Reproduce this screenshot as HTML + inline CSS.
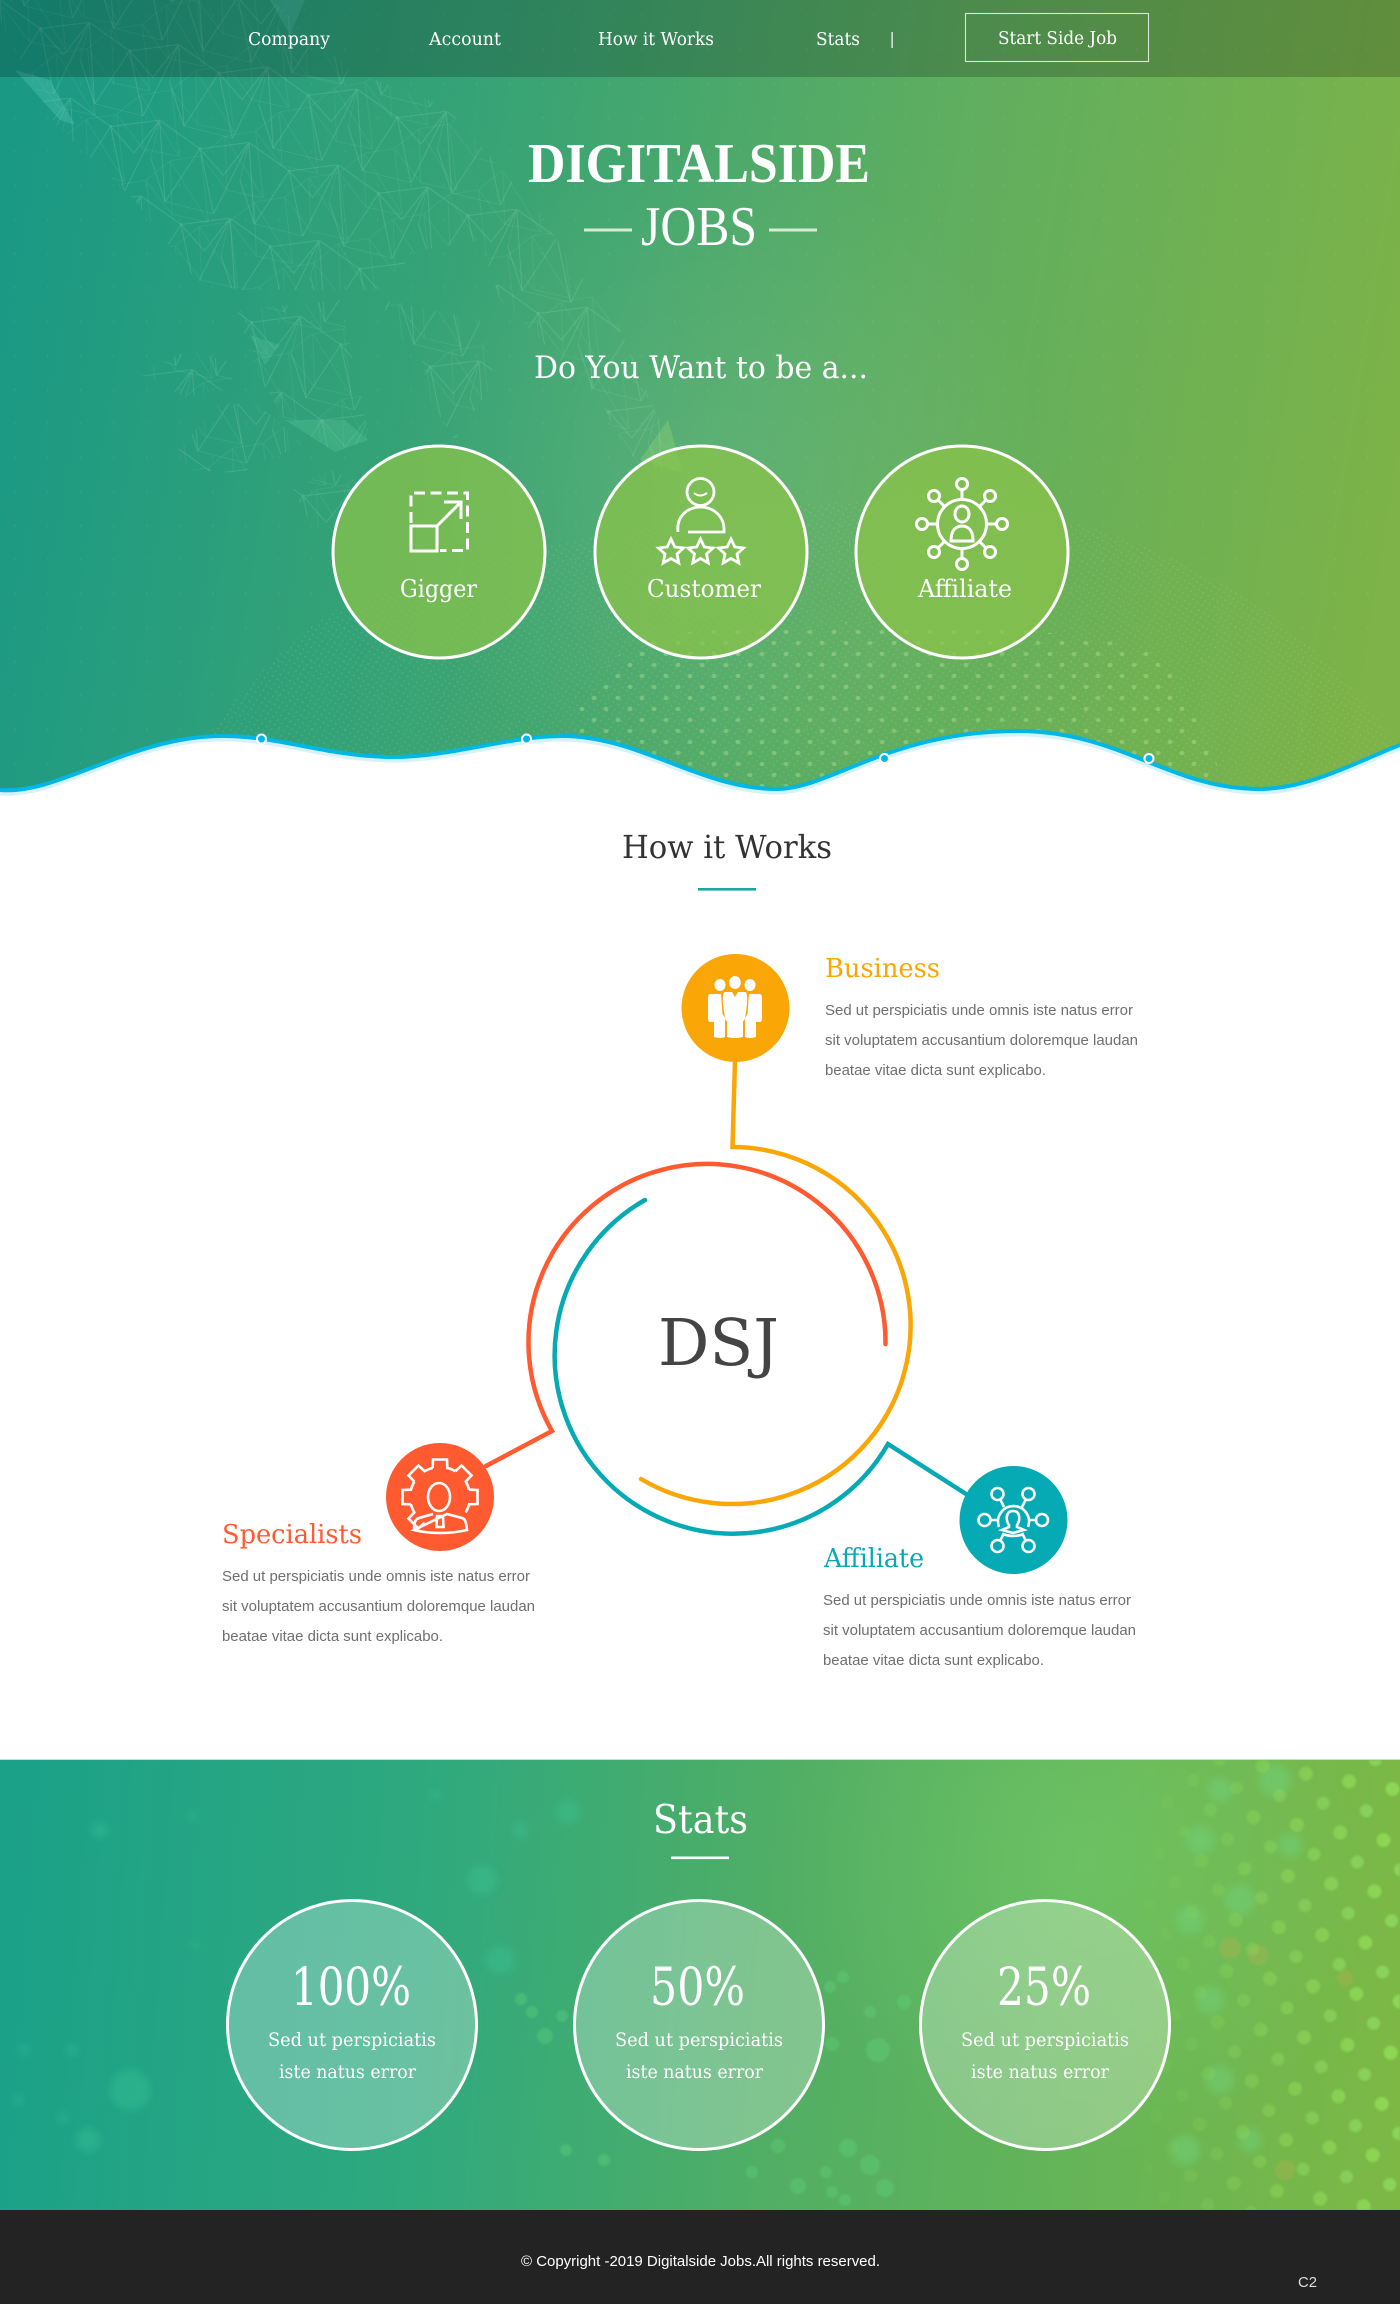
<!DOCTYPE html>
<html lang="en"><head><meta charset="utf-8"><title>Digitalside Jobs</title>
<style>
html,body{margin:0;padding:0;width:1400px;height:2304px;background:#fff;overflow:hidden}
svg{display:block}
text{white-space:pre}
.s{font-family:"DejaVu Serif","Liberation Serif",serif}
.l{font-family:"Liberation Serif",serif}
.p{font-family:"Liberation Sans",sans-serif;font-size:15px;fill:#6f6f6f}
.w{fill:#fff}
</style></head><body>
<svg xmlns="http://www.w3.org/2000/svg" width="1400" height="2304" viewBox="0 0 1400 2304">
<defs>
<linearGradient id="hero" gradientUnits="userSpaceOnUse" x1="0" y1="250" x2="1400" y2="480">
<stop offset="0" stop-color="#1a9984"/><stop offset=".35" stop-color="#3aa474"/><stop offset=".65" stop-color="#5fae60"/><stop offset="1" stop-color="#7db348"/></linearGradient>
<linearGradient id="stats" gradientUnits="userSpaceOnUse" x1="0" y1="1950" x2="1400" y2="2050">
<stop offset="0" stop-color="#1ba188"/><stop offset=".3" stop-color="#2fa97e"/><stop offset=".55" stop-color="#50ae65"/><stop offset=".8" stop-color="#67b556"/><stop offset="1" stop-color="#7db845"/></linearGradient>
<radialGradient id="spot" gradientUnits="userSpaceOnUse" cx="720" cy="470" r="330"><stop offset="0" stop-color="#fff" stop-opacity=".08"/><stop offset="1" stop-color="#fff" stop-opacity="0"/></radialGradient>
<radialGradient id="glow" gradientUnits="userSpaceOnUse" cx="1080" cy="1860" r="300"><stop offset="0" stop-color="#7fe07a" stop-opacity=".3"/><stop offset="1" stop-color="#7fe07a" stop-opacity="0"/></radialGradient>
<pattern id="mesh1" width="92" height="78" patternUnits="userSpaceOnUse" patternTransform="rotate(14)">
<path d="M0 0L46 18L92 0M46 18L25 78M46 18L75 78M0 0L25 78L75 78L92 0M25 78L0 38L0 0M92 0L75 38L46 18" fill="none" stroke="#c7f7e0" stroke-width=".9"/>
<circle cx="46" cy="18" r="1.5" fill="#d8ffee"/><circle cx="25" cy="78" r="1.3" fill="#d8ffee"/></pattern>
<pattern id="mesh2" width="60" height="72" patternUnits="userSpaceOnUse" patternTransform="rotate(-24)">
<path d="M0 8L30 0L60 8L40 72L10 50L0 8M30 0L10 50M30 0L40 72" fill="none" stroke="#c7f7e0" stroke-width=".8"/></pattern>
<pattern id="bigdots" width="24" height="22" patternUnits="userSpaceOnUse"><ellipse cx="6" cy="5" rx="2.500" ry="2.100" fill="#c9ee9f"/><ellipse cx="18" cy="16" rx="2.500" ry="2.100" fill="#c9ee9f"/></pattern>
<pattern id="fine" width="8" height="8" patternUnits="userSpaceOnUse" patternTransform="rotate(-12)"><circle cx="2" cy="2" r=".9" fill="#d7f5c2"/><circle cx="6" cy="6" r=".9" fill="#d7f5c2"/></pattern>
<pattern id="tiny" width="33" height="34" patternUnits="userSpaceOnUse"><rect x="14" y="14" width="1.400" height="3" fill="#fff"/></pattern>
<pattern id="bok" width="44" height="52" patternUnits="userSpaceOnUse" patternTransform="rotate(10)"><circle cx="10" cy="12" r="7" fill="#93e05a"/><circle cx="32" cy="38" r="6.500" fill="#8fdc62"/></pattern>
<linearGradient id="fade" gradientUnits="userSpaceOnUse" x1="1130" y1="0" x2="1400" y2="0"><stop offset="0" stop-color="#fff" stop-opacity="0"/><stop offset=".45" stop-color="#fff" stop-opacity=".4"/><stop offset="1" stop-color="#fff" stop-opacity=".95"/></linearGradient>
<mask id="fm"><rect x="1100" y="1760" width="300" height="450" fill="url(#fade)"/></mask>
<filter id="b2" x="-5%" y="-5%" width="110%" height="110%"><feGaussianBlur stdDeviation="1"/></filter>
<filter id="b4" x="-5%" y="-5%" width="110%" height="110%"><feGaussianBlur stdDeviation="4"/></filter>
<clipPath id="map"><path d="M0 0H272L350 70L446 107L535 207L590 290L616 320L655 410L683 473L660 470L620 440L600 400L570 370L530 310L500 300L480 240L420 250L375 290L237 290L196 280L134 200L54 123L0 20ZM237 310L340 300L370 440L335 452L285 420L255 370ZM385 300L480 320L495 380L455 440L430 400L420 350L385 330ZM138 372L190 350L241 365L225 390L185 397ZM178 450L220 403L260 405L303 445L240 473L190 470ZM292 490L330 470L357 480L340 520L315 530ZM500 300L545 300L600 400L650 470L683 473L640 470L600 400Z"/></clipPath>
<clipPath id="globe"><path d="M170 800C210 720 270 650 350 600C480 560 560 540 700 515C900 490 1000 500 1100 530C1250 580 1340 660 1400 750V800Z"/></clipPath>
<clipPath id="globeB"><path d="M555 790C565 720 590 670 640 640C760 615 1000 615 1150 650C1190 690 1210 740 1225 790Z"/></clipPath>
<clipPath id="wave"><path d="M0 790C60 795 130 736 223 736C280 736 330 757 393 757C450 757 510 736 562 736C640 736 700 789 777 789C830 789 890 731 1018 731C1120 731 1170 789 1259 789C1310 789 1360 760 1400 745V0H0Z"/></clipPath>
<path id="gt" d="M-7.300-29.100L-7-37.500H7L7.300-29.100A30 30 0 0 1 15.450-25.700"/>
</defs>

<rect width="1400" height="2304" fill="#fff"/>

<!-- hero -->
<g clip-path="url(#wave)">
<rect width="1400" height="800" fill="url(#hero)"/>
<rect width="1400" height="800" fill="url(#tiny)" opacity=".05"/>
<rect width="1400" height="800" fill="url(#spot)"/>
<g clip-path="url(#map)">
<rect width="760" height="560" fill="url(#mesh1)" opacity=".17"/><rect width="760" height="560" fill="url(#mesh2)" opacity=".09"/></g>
<path d="M15 70L50 80L75 125L60 120Z" fill="#5fd0c0" opacity=".3"/>
<path d="M270 0L305 0L290 35Z" fill="#5fd0c0" opacity=".25"/>
<path d="M640 460L683 473L668 420Z" fill="#9fe070" opacity=".3"/>
<path d="M285 420L335 452L368 440L345 420Z" fill="#7fe0b0" opacity=".18"/>
<path d="M250 335L280 345L265 365Z" fill="#7fe0b0" opacity=".18"/>
<g clip-path="url(#globe)"><rect y="460" width="1400" height="340" fill="url(#fine)" opacity=".14"/></g>
<g clip-path="url(#globeB)"><rect x="540" y="600" width="800" height="200" fill="url(#bigdots)" opacity=".33"/></g>
</g>
<rect width="1400" height="77" fill="#000" opacity=".2"/>

<!-- wave line -->
<path d="M0 793.500C60 798.500 130 739.500 223 739.500C280 739.500 330 760.500 393 760.500C450 760.500 510 739.500 562 739.500C640 739.500 700 792.500 777 792.500C830 792.500 890 734.500 1018 734.500C1120 734.500 1170 792.500 1259 792.500C1310 792.500 1360 763.500 1400 748.500" fill="none" stroke="#d6f3fb" stroke-width="4"/>
<path d="M0 790C60 795 130 736 223 736C280 736 330 757 393 757C450 757 510 736 562 736C640 736 700 789 777 789C830 789 890 731 1018 731C1120 731 1170 789 1259 789C1310 789 1360 760 1400 745" fill="none" stroke="#00b7e6" stroke-width="4"/>
<g fill="#00b7e6" stroke="#fff" stroke-width="2"><circle cx="261.500" cy="739" r="4.500"/><circle cx="526.500" cy="739" r="4.500"/><circle cx="884.500" cy="758.500" r="4.500"/><circle cx="1149" cy="758.500" r="4.500"/></g>

<!-- nav -->
<g class="s w" font-size="17.500">
<text x="248" y="45" textLength="82" lengthAdjust="spacingAndGlyphs">Company</text>
<text x="429" y="45" textLength="72" lengthAdjust="spacingAndGlyphs">Account</text>
<text x="598" y="45" textLength="116" lengthAdjust="spacingAndGlyphs">How it Works</text>
<text x="816" y="45" textLength="44" lengthAdjust="spacingAndGlyphs">Stats</text>
<text x="998" y="44" textLength="119" lengthAdjust="spacingAndGlyphs">Start Side Job</text>
</g>
<rect x="891.500" y="32" width="1.200" height="16" fill="#fff"/>
<rect x="965.500" y="13.500" width="183" height="48" fill="none" stroke="#d8e8d8" stroke-width="1.100"/>

<!-- title -->
<text class="l w" font-weight="700" font-size="56" x="528" y="182" textLength="342" lengthAdjust="spacingAndGlyphs">DIGITALSIDE</text>
<text class="l w" font-size="56" x="641" y="245" textLength="116" lengthAdjust="spacingAndGlyphs">JOBS</text>
<rect x="584" y="228.500" width="48" height="3" fill="#d5ebd5"/><rect x="769" y="228.500" width="48" height="3" fill="#d5ebd5"/>
<text class="s w" font-size="31" x="534" y="378" textLength="334" lengthAdjust="spacingAndGlyphs">Do You Want to be a...</text>

<!-- circles -->
<g fill="#8bc34a" fill-opacity=".72" stroke="#fff" stroke-width="3">
<circle cx="439" cy="552" r="106"/><circle cx="701" cy="552" r="106"/><circle cx="962" cy="552" r="106"/></g>
<g class="s w" font-size="24">
<text x="400" y="597" textLength="77" lengthAdjust="spacingAndGlyphs">Gigger</text>
<text x="647" y="597" textLength="114" lengthAdjust="spacingAndGlyphs">Customer</text>
<text x="918" y="597" textLength="94" lengthAdjust="spacingAndGlyphs">Affiliate</text>
</g>

<!-- gigger icon -->
<g fill="none" stroke="#fff" stroke-width="3">
<path d="M411 523V493H467.500V550.500H440" stroke-dasharray="11 5.500"/>
<rect x="411" y="526" width="26" height="25"/>
<path d="M437 526L461 502M444 502H461V519"/>
</g>
<!-- customer icon -->
<g fill="none" stroke="#fff" stroke-width="2.800">
<circle cx="700.500" cy="492" r="13.500"/><path d="M694 493Q700 498 707 493" stroke-width="2"/>
<path d="M678 532C676 516 688 507 700.500 507C713 507 725 516 724 532H688"/>
<path d="M671 539L674.800 547L683.500 548L677 554L678.800 563L671 558.500L663.200 563L665 554L658.500 548L667.200 547Z"/>
<path d="M700.500 539L704.300 547L713 548L706.500 554L708.300 563L700.500 558.500L692.700 563L694.500 554L688 548L696.700 547Z"/>
<path d="M731 539L734.800 547L743.500 548L737 554L738.800 563L731 558.500L723.200 563L725 554L718.500 548L727.200 547Z"/>
</g>
<!-- affiliate icon -->
<g fill="none" stroke="#fff" stroke-width="3">
<circle cx="962" cy="524" r="24.500"/>
<circle cx="962" cy="484" r="5.500"/><circle cx="962" cy="564" r="5.500"/><circle cx="922" cy="524" r="5.500"/><circle cx="1002" cy="524" r="5.500"/>
<circle cx="934" cy="496" r="5.500"/><circle cx="990" cy="496" r="5.500"/><circle cx="934" cy="552" r="5.500"/><circle cx="990" cy="552" r="5.500"/>
<path d="M962 490V499M962 549V558M928 524H937M987 524H996M938.500 500.500L945 507M985.500 500.500L979 507M938.500 547.500L945 541M985.500 547.500L979 541"/>
<ellipse cx="962" cy="514" rx="7" ry="8"/><path d="M951 541C951 530 956 526 962 526C968 526 973 530 973 541Z"/>
</g>

<!-- how it works -->
<text class="s" font-size="32" fill="#333" x="622" y="858" textLength="210" lengthAdjust="spacingAndGlyphs">How it Works</text>
<rect x="698" y="888" width="58" height="2.600" fill="#1aa996"/>

<!-- connectors & arcs -->
<g fill="none" stroke-width="4.500" stroke-linecap="round" stroke-linejoin="miter">
<path d="M735 1060L732.500 1147A178.500 178.500 0 1 1 641 1479" stroke="#f9a606"/>
<path d="M885.500 1344A178.500 178.500 0 1 0 552 1431L486 1466" stroke="#ff5a30"/>
<path d="M645 1200A178.500 178.500 0 1 0 888 1444L966 1494" stroke="#05aab5"/>
</g>
<circle cx="735.500" cy="1008" r="54" fill="#f9a606"/>
<circle cx="440" cy="1497" r="54" fill="#ff5a30"/>
<circle cx="1013.500" cy="1520" r="54" fill="#05aab5"/>

<!-- business icon -->
<g fill="#fff">
<ellipse cx="720" cy="985" rx="5.500" ry="6"/><ellipse cx="735" cy="982.500" rx="5.800" ry="6.500"/><ellipse cx="750" cy="985" rx="5.500" ry="6"/>
<path d="M711 994H721L722.500 1014L725 1018V1037Q720 1039 714 1037V1022H710C708.500 1022 708 1020 708 1018V998C708 995 709 994 711 994Z"/>
<path d="M759 994H749L747.500 1014L745 1018V1037Q750 1039 756 1037V1022H760C761.500 1022 762 1020 762 1018V998C762 995 761 994 759 994Z"/>
<path d="M725 992H732L735 997L738 992H745C747 992 747.500 996 747 1004L745 1018C744.500 1021 743.500 1021 743 1021V1037Q735 1039 727 1037V1021C726.500 1021 725.500 1021 725 1018L723 1004C722.500 996 723 992 725 992Z"/>
</g>
<!-- gear icon -->
<g transform="translate(440 1497)" fill="none" stroke="#fff" stroke-width="2.600">
<use href="#gt" transform="rotate(-90)"/><use href="#gt" transform="rotate(-45)"/><use href="#gt"/><use href="#gt" transform="rotate(45)"/><use href="#gt" transform="rotate(90)"/><use href="#gt" transform="rotate(-135)"/>
<ellipse cx="-1" cy="0" rx="11" ry="14"/>
<path d="M-26 33C-26 24-24 22-21 21L-7 17M7 17L22 21C25 22 26 24 27 33C10 37-10 37-26 33ZM-3 19H3L3.500 30H-3.500Z"/>
</g>
<!-- network icon -->
<g fill="none" stroke="#fff" stroke-width="2.600">
<circle cx="984.500" cy="1520" r="6"/><circle cx="1042" cy="1520" r="6"/><circle cx="997.500" cy="1494" r="6"/><circle cx="1028.500" cy="1494" r="6"/><circle cx="997.500" cy="1546" r="6"/><circle cx="1028.500" cy="1546" r="6"/>
<path d="M999 1527A15.500 15.500 0 1 1 1028 1527M1003 1534Q1013 1538 1024 1534M990 1520H998M1029 1520H1036M1000.500 1500L1004 1507M1025.500 1500L1022 1507M1000.500 1540L1004 1533M1025.500 1540L1022 1533"/>
<path d="M1009 1525C1006 1521 1005 1511 1013 1511C1021 1511 1020 1521 1017 1525L1017 1527L1024 1530L1013 1533L1002 1530L1009 1527Z"/>
</g>

<text class="s" font-size="65" fill="#444" x="658" y="1365" textLength="121" lengthAdjust="spacingAndGlyphs">DSJ</text>

<text class="s" font-size="26" fill="#f9a606" x="825" y="977" textLength="115" lengthAdjust="spacingAndGlyphs">Business</text>
<text class="p" x="825" y="1015" textLength="308" lengthAdjust="spacingAndGlyphs">Sed ut perspiciatis unde omnis iste natus error</text>
<text class="p" x="825" y="1045" textLength="313" lengthAdjust="spacingAndGlyphs">sit voluptatem accusantium doloremque laudan</text>
<text class="p" x="825" y="1075" textLength="221" lengthAdjust="spacingAndGlyphs">beatae vitae dicta sunt explicabo.</text>

<text class="s" font-size="26" fill="#ff5a30" x="222" y="1543" textLength="140" lengthAdjust="spacingAndGlyphs">Specialists</text>
<text class="p" x="222" y="1581" textLength="308" lengthAdjust="spacingAndGlyphs">Sed ut perspiciatis unde omnis iste natus error</text>
<text class="p" x="222" y="1611" textLength="313" lengthAdjust="spacingAndGlyphs">sit voluptatem accusantium doloremque laudan</text>
<text class="p" x="222" y="1641" textLength="221" lengthAdjust="spacingAndGlyphs">beatae vitae dicta sunt explicabo.</text>

<text class="s" font-size="26" fill="#05aab5" x="824" y="1567" textLength="100" lengthAdjust="spacingAndGlyphs">Affiliate</text>
<text class="p" x="823" y="1605" textLength="308" lengthAdjust="spacingAndGlyphs">Sed ut perspiciatis unde omnis iste natus error</text>
<text class="p" x="823" y="1635" textLength="313" lengthAdjust="spacingAndGlyphs">sit voluptatem accusantium doloremque laudan</text>
<text class="p" x="823" y="1665" textLength="221" lengthAdjust="spacingAndGlyphs">beatae vitae dicta sunt explicabo.</text>

<!-- stats -->
<rect y="1759" width="1400" height="1" fill="#bfe3dc"/>
<rect y="1760" width="1400" height="450" fill="url(#stats)"/>
<rect y="1760" width="1400" height="450" fill="url(#glow)"/>
<g filter="url(#b4)" fill="#6fd27a" opacity=".5">
<circle cx="1200" cy="1840" r="14"/><circle cx="1240" cy="1900" r="15"/><circle cx="1190" cy="1920" r="14"/><circle cx="1275" cy="1780" r="16"/><circle cx="1210" cy="2000" r="14"/><circle cx="1220" cy="2080" r="14"/><circle cx="1185" cy="2150" r="15"/><circle cx="1250" cy="2140" r="12"/><circle cx="1220" cy="1790" r="12"/><circle cx="1290" cy="1845" r="12"/>
</g>
<g filter="url(#b2)" fill="#c0b050" opacity=".3"><circle cx="1230" cy="1948" r="11"/><circle cx="1258" cy="1955" r="10"/><circle cx="1345" cy="1978" r="8"/><circle cx="1285" cy="2170" r="10"/></g>
<g mask="url(#fm)" filter="url(#b2)"><rect x="1100" y="1760" width="300" height="450" fill="url(#bok)" opacity=".85"/></g>
<g filter="url(#b4)" fill="#3cc99a" opacity=".35">
<circle cx="568" cy="1812" r="12"/><circle cx="193" cy="1816" r="4"/><circle cx="482" cy="1880" r="15"/><circle cx="520" cy="1830" r="8"/><circle cx="435" cy="1795" r="5"/>
<circle cx="24" cy="2050" r="5"/><circle cx="72" cy="2050" r="5"/><circle cx="88" cy="2140" r="12"/><circle cx="63" cy="2118" r="5"/><circle cx="18" cy="2100" r="5"/>
<circle cx="195" cy="1945" r="4"/><circle cx="500" cy="1960" r="14"/><circle cx="130" cy="2090" r="20"/><circle cx="100" cy="1830" r="8"/>
</g>
<g filter="url(#b2)" fill="#5fd27a" opacity=".4">
<circle cx="521" cy="1999" r="6"/><circle cx="532" cy="2012" r="6"/><circle cx="562" cy="2016" r="6"/><circle cx="545" cy="2036" r="8"/><circle cx="843" cy="1977" r="6"/><circle cx="830" cy="1987" r="6"/><circle cx="870" cy="2012" r="6"/><circle cx="832" cy="2044" r="7"/><circle cx="878" cy="2050" r="12"/><circle cx="904" cy="2002" r="7"/>
<circle cx="566" cy="2150" r="6"/><circle cx="604" cy="2160" r="6"/><circle cx="778" cy="2146" r="7"/><circle cx="848" cy="2148" r="9"/><circle cx="752" cy="2172" r="6"/><circle cx="798" cy="2186" r="8"/>
<circle cx="826" cy="2172" r="6"/><circle cx="832" cy="2192" r="6"/><circle cx="845" cy="2200" r="6"/><circle cx="885" cy="2188" r="9"/><circle cx="870" cy="2165" r="10"/>
</g>
<g fill="#fff" fill-opacity=".28" stroke="#fff" stroke-width="3">
<circle cx="352" cy="2025" r="124.500"/><circle cx="699" cy="2025" r="124.500"/><circle cx="1045" cy="2025" r="124.500"/></g>
<text class="s w" font-size="39" x="653" y="1833" textLength="95" lengthAdjust="spacingAndGlyphs">Stats</text>
<rect x="671" y="1856.500" width="58" height="2.600" fill="#fff"/>
<g class="s w" font-size="52">
<text x="291" y="2005" textLength="120" lengthAdjust="spacingAndGlyphs">100%</text>
<text x="650" y="2005" textLength="95" lengthAdjust="spacingAndGlyphs">50%</text>
<text x="997" y="2005" textLength="94" lengthAdjust="spacingAndGlyphs">25%</text>
</g>
<g class="s w" font-size="19">
<text x="268" y="2046" textLength="168" lengthAdjust="spacingAndGlyphs">Sed ut perspiciatis</text>
<text x="279" y="2078" textLength="137" lengthAdjust="spacingAndGlyphs">iste natus error</text>
<text x="615" y="2046" textLength="168" lengthAdjust="spacingAndGlyphs">Sed ut perspiciatis</text>
<text x="626" y="2078" textLength="137" lengthAdjust="spacingAndGlyphs">iste natus error</text>
<text x="961" y="2046" textLength="168" lengthAdjust="spacingAndGlyphs">Sed ut perspiciatis</text>
<text x="971" y="2078" textLength="138" lengthAdjust="spacingAndGlyphs">iste natus error</text>
</g>

<!-- footer -->
<rect y="2210" width="1400" height="94" fill="#232323"/>
<text x="521" y="2266" font-family="Liberation Sans, sans-serif" font-size="15" fill="#fff" textLength="359" lengthAdjust="spacingAndGlyphs">© Copyright -2019 Digitalside Jobs.All rights reserved.</text>
<text x="1298" y="2287" font-family="Liberation Sans, sans-serif" font-size="15" fill="#ddd" textLength="19" lengthAdjust="spacingAndGlyphs">C2</text>
</svg>
</body></html>
